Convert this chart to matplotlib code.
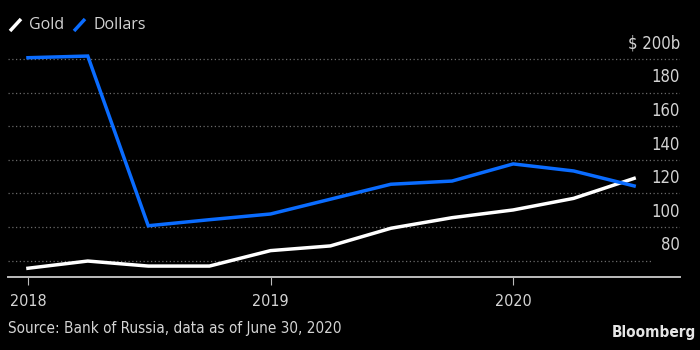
import matplotlib
matplotlib.use("Agg")
import matplotlib.pyplot as plt
from matplotlib.lines import Line2D
from matplotlib import font_manager
import pandas as pd

quarters = ["2018-01-01", "2018-04-01", "2018-07-01", "2018-10-01",
            "2019-01-01", "2019-04-01", "2019-07-01", "2019-10-01",
            "2020-01-01", "2020-04-01", "2020-07-01"]
gold = [75.5, 79.8, 76.8, 76.8, 86.0, 88.8, 99.3, 105.6, 110.2, 117.1, 129.0]
dollars = [200.8, 201.8, 100.8, 104.4, 107.8, 116.6, 125.5, 127.4, 137.6, 133.4, 124.5]
ytick_vals = [80, 100, 120, 140, 160, 180, 200]
ytick_labels = ["80", "100", "120", "140", "160", "180", "$ 200b"]
xtick_dates = ["2018-01-01", "2019-01-01", "2020-01-01"]
xtick_labels = ["2018", "2019", "2020"]
series_names = ["Gold", "Dollars"]
source_text = "Source: Bank of Russia, data as of June 30, 2020"

available = {f.name for f in font_manager.fontManager.ttflist}
regular = "Open Sans" if "Open Sans" in available else "DejaVu Sans"
NARROW = dict(family="DejaVu Sans", fontstretch="condensed")

BLUE = "#0a6cff"
WHITE = "#ffffff"
TXT = "#d4d4d4"
W, H = 700, 350

fig = plt.figure(figsize=(7, 3.5), dpi=100, facecolor="black")
# axes in pixel coords: left 8, right 680, top 30, bottom 277
ax = fig.add_axes([8 / W, 1 - 277 / H, 672 / W, 247 / H], facecolor="black")

x = pd.to_datetime(quarters)
ax.plot(x, gold, color=WHITE, lw=2.5, solid_joinstyle="miter", zorder=3)
ax.plot(x, dollars, color=BLUE, lw=2.5, solid_joinstyle="miter", zorder=3)

ax.set_ylim(70.3, 217.3)
ax.set_xlim(pd.Timestamp("2017-12-02"), pd.Timestamp("2020-09-08"))

for v in ytick_vals:
    xmax = 0.96 if v == ytick_vals[0] else 1.0
    ax.axhline(v, xmin=0, xmax=xmax, color="#6a6a6a", lw=0.9,
               linestyle=(0, (1, 2.0)), zorder=1)

for v, lab in zip(ytick_vals, ytick_labels):
    ax.annotate(lab, xy=(1.0, v), xycoords=("axes fraction", "data"),
                xytext=(0, 11), textcoords="offset points",
                ha="right", va="center", color=TXT, fontsize=12, **NARROW)

ax.set_yticks([])
for s in ["left", "right", "top"]:
    ax.spines[s].set_visible(False)
ax.spines["bottom"].set_color("#bdbdbd")
ax.spines["bottom"].set_linewidth(1.4)

ax.set_xticks(pd.to_datetime(xtick_dates))
ax.set_xticklabels(xtick_labels, fontsize=11.5, color=TXT, **NARROW)
ax.tick_params(axis="x", length=6, width=0.8, color="#bdbdbd", pad=6)

# legend
fig.add_artist(Line2D([10 / W, 21 / W], [1 - 31 / H, 1 - 19 / H],
                      color=WHITE, lw=2.5, solid_capstyle="butt"))
fig.text(29 / W, 1 - 25 / H, series_names[0], color=TXT, fontsize=11.5,
         family=regular, ha="left", va="center")
fig.add_artist(Line2D([74 / W, 85 / W], [1 - 31 / H, 1 - 19 / H],
                      color=BLUE, lw=2.5, solid_capstyle="butt"))
fig.text(93 / W, 1 - 25 / H, series_names[1], color=TXT, fontsize=11.5,
         family=regular, ha="left", va="center")

fig.text(8 / W, 1 - 328 / H, source_text, color=TXT, fontsize=11, **NARROW,
         ha="left", va="center")
fig.text(696 / W, 1 - 333 / H, "Bloomberg", color="#e6e6e6", fontsize=11,
         family="DejaVu Sans", fontstretch="condensed", fontweight="bold",
         ha="right", va="center")

fig.savefig("out.png", dpi=100, facecolor="black")
